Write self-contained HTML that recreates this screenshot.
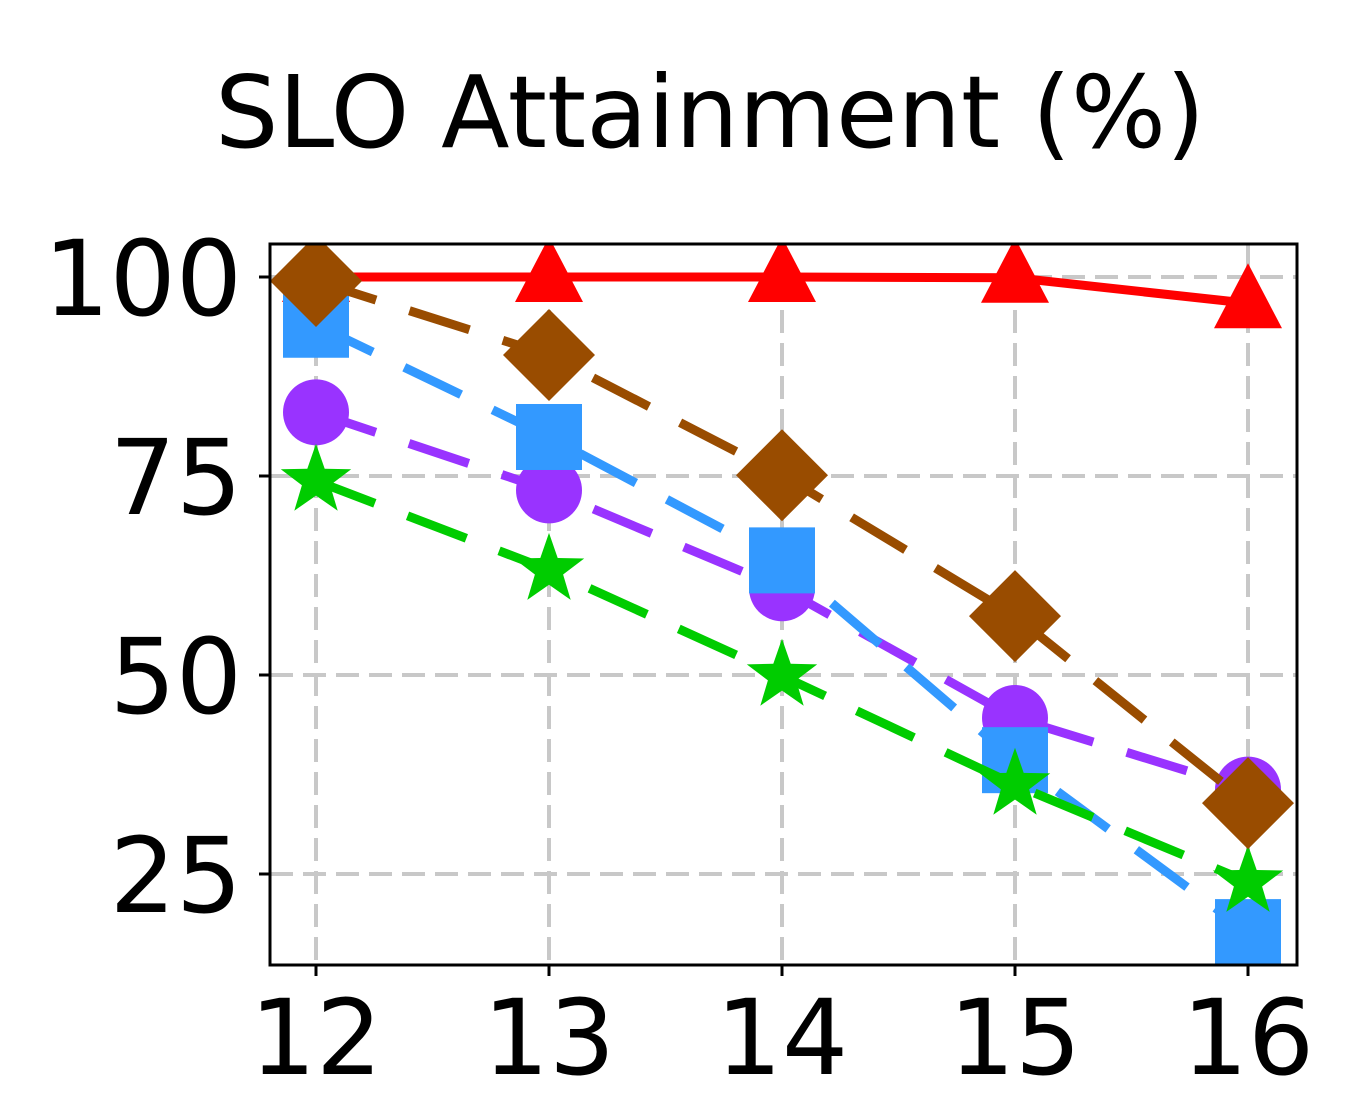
<!DOCTYPE html>
<html><head><meta charset="utf-8"><style>body{margin:0;background:#fff}svg{display:block}text{font-family:"DejaVu Sans","Liberation Sans",sans-serif}</style></head>
<body>
<svg id="c" width="1350" height="1100" viewBox="0 0 1350 1100">
<defs><clipPath id="pc"><rect x="270" y="244" width="1027" height="721"/></clipPath></defs>
<text x="710" y="147" font-size="100" text-anchor="middle">SLO Attainment (%)</text>
<g id="grid"></g><g id="series" clip-path="url(#pc)"></g>
<rect x="270" y="244" width="1027" height="721" fill="none" stroke="#000" stroke-width="3"/>
<g id="axes"></g>
</svg>
<script>
const categories=[12,13,14,15,16];
const yTicks=[25,50,75,100];
const redVals=[100,100,100,99.9,96.7];
const purpleVals=[83,73.2,60.9,44.6,35.6];
const blueVals=[94,79.9,64.4,39.3,17.7];
const greenVals=[74.4,63.2,49.9,36.2,24];
const brownVals=[99.5,90.2,75.1,57.4,33.9];
const NS='http://www.w3.org/2000/svg';
const x=i=>316+i*233;
const y=v=>277+(100-v)*7.96;
function mk(t,a,p){const e=document.createElementNS(NS,t);for(const k in a)e.setAttribute(k,a[k]);p.appendChild(e);return e;}
const grid=document.getElementById('grid'),axes=document.getElementById('axes'),ser=document.getElementById('series');
categories.forEach((c,i)=>{
 const g=mk('line',{x1:x(i),x2:x(i),y1:244,y2:965,stroke:'#c8c8c8','stroke-width':4,'stroke-dasharray':'23 10'},grid);
 
 
 const t=mk('line',{x1:x(i),x2:x(i),y1:965,y2:976,stroke:'#000','stroke-width':3},axes);
 
 
 const l=mk('text',{x:x(i),y:1074,'font-size':104,'text-anchor':'middle'},axes);l.textContent=c;
 
 
});
yTicks.forEach(v=>{
 const g=mk('line',{x1:270,x2:1297,y1:y(v),y2:y(v),stroke:'#c8c8c8','stroke-width':4,'stroke-dasharray':'23 10'},grid);
 
 
 const t=mk('line',{x1:259,x2:270,y1:y(v),y2:y(v),stroke:'#000','stroke-width':3},axes);
 
 
 const l=mk('text',{x:242,y:y(v)+38,'font-size':104,'text-anchor':'end'},axes);l.textContent=v;
 
 
});
function star(cx,cy,R){const r=R*0.4;let p=[];for(let k=0;k<10;k++){const a=-Math.PI/2+k*Math.PI/5,rr=k%2?r:R;p.push((cx+rr*Math.cos(a)).toFixed(1)+','+(cy+rr*Math.sin(a)).toFixed(1));}return p.join(' ');}
function series(vals,col,dash,marker,name){
 const g=mk('g',{},ser);
 
 
 const ln=mk('polyline',{points:vals.map((v,i)=>x(i)+','+y(v)).join(' '),fill:'none',stroke:col,'stroke-width':9,'stroke-dasharray':dash},g);
 
 
 vals.forEach((v,i)=>{const cx=x(i),cy=y(v);let m;
  if(marker==='tri')m=mk('polygon',{points:`${cx},${cy-40} ${cx+34},${cy+25} ${cx-34},${cy+25}`,fill:col},g);
  else if(marker==='sq')m=mk('rect',{x:cx-33,y:cy-33,width:66,height:66,fill:col},g);
  else if(marker==='circ')m=mk('circle',{cx:cx,cy:cy,r:33,fill:col},g);
  else if(marker==='star')m=mk('polygon',{points:star(cx,cy,37),fill:col},g);
  else m=mk('polygon',{points:`${cx},${cy-46} ${cx+46},${cy} ${cx},${cy+46} ${cx-46},${cy}`,fill:col},g);
  
  
 });
}
series(redVals,'#ff0000','none','tri','red-series');
series(purpleVals,'#9933ff','63 35','circ','purple-series');
series(blueVals,'#3399ff','63 35','sq','blue-series');
series(greenVals,'#00cc00','63 35','star','green-series');
series(brownVals,'#994c00','63 35','dia','brown-series');
</script>
</body></html>
